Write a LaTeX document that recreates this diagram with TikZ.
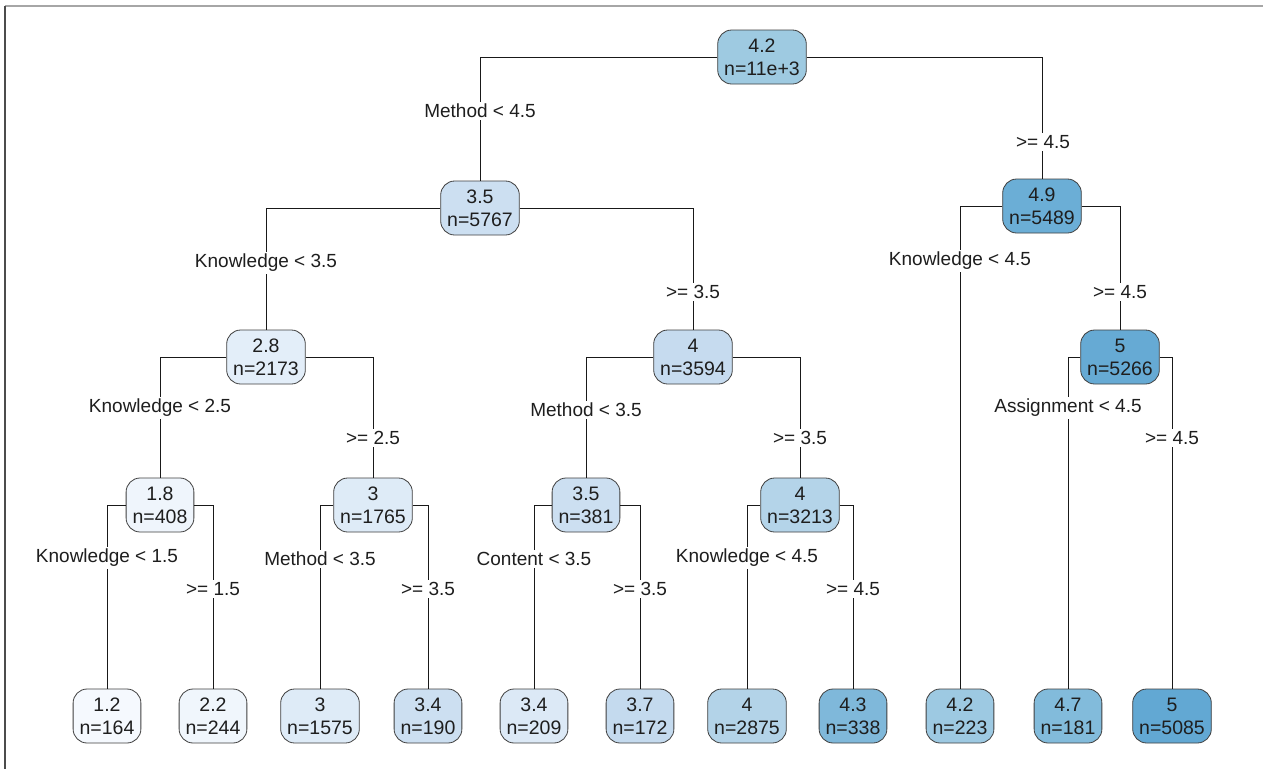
\documentclass[tikz,border=0pt]{standalone}
\usepackage{fontspec}
\setmainfont{Liberation Sans}
\definecolor{croot}{HTML}{9ECAE1}
\definecolor{ca}{HTML}{CCDFF1}
\definecolor{cb}{HTML}{6BAED6}
\definecolor{caa}{HTML}{E3EEF9}
\definecolor{cab}{HTML}{C6DBEF}
\definecolor{cbb}{HTML}{66AAD4}
\definecolor{caaa}{HTML}{EFF5FC}
\definecolor{caab}{HTML}{DEEBF7}
\definecolor{caba}{HTML}{CCDFF1}
\definecolor{cabb}{HTML}{B4D4E9}
\definecolor{cl1}{HTML}{F5F9FE}
\definecolor{cl2}{HTML}{F0F6FC}
\definecolor{cl3}{HTML}{DEEBF7}
\definecolor{cl4}{HTML}{CCDFF1}
\definecolor{cl5}{HTML}{DCE9F6}
\definecolor{cl6}{HTML}{C4DAEE}
\definecolor{cl7}{HTML}{B3D3E8}
\definecolor{cl8}{HTML}{7FB8DA}
\definecolor{cl9}{HTML}{9DC9E2}
\definecolor{cl10}{HTML}{82BBDB}
\definecolor{cl11}{HTML}{62A8D3}
\definecolor{txt}{HTML}{1E1E1E}
\begin{document}
\begin{tikzpicture}[x=1pt,y=-1pt,
  tn/.style={draw=black!75, rounded corners=14pt, line width=0.8pt, align=center,
    inner xsep=6.5pt, inner ysep=3pt, minimum height=54pt, text=txt,
    font=\fontsize{19.5}{23}\selectfont},
  lbl/.style={fill=white, inner sep=2pt, text=txt, font=\fontsize{19}{22}\selectfont},
  br/.style={draw=black!90, line width=0.7pt}]
\useasboundingbox (0,0) rectangle (1263,769);
\fill[white] (0,0) rectangle (1263,769);
\draw[black!35, line width=1.2pt] (5,6) -- (1263,6);
\draw[black!70, line width=1.2pt] (5,6) -- (5,769);
% internal nodes
\node[tn, fill=croot] (root) at (762,57) {4.2\\n=11e+3};
\node[tn, fill=ca] (a) at (480,208) {3.5\\n=5767};
\node[tn, fill=cb] (b) at (1042,206) {4.9\\n=5489};
\node[tn, fill=caa] (aa) at (266,357) {2.8\\n=2173};
\node[tn, fill=cab] (ab) at (693,357) {4\\n=3594};
\node[tn, fill=cbb] (bb) at (1120,357) {5\\n=5266};
\node[tn, fill=caaa] (aaa) at (160,505) {1.8\\n=408};
\node[tn, fill=caab] (aab) at (373,505) {3\\n=1765};
\node[tn, fill=caba] (aba) at (586,505) {3.5\\n=381};
\node[tn, fill=cabb] (abb) at (800,505) {4\\n=3213};
% leaves
\node[tn, fill=cl1] (l1) at (107,716) {1.2\\n=164};
\node[tn, fill=cl2] (l2) at (213,716) {2.2\\n=244};
\node[tn, fill=cl3] (l3) at (320,716) {3\\n=1575};
\node[tn, fill=cl4] (l4) at (428,716) {3.4\\n=190};
\node[tn, fill=cl5] (l5) at (534,716) {3.4\\n=209};
\node[tn, fill=cl6] (l6) at (640,716) {3.7\\n=172};
\node[tn, fill=cl7] (l7) at (747,716) {4\\n=2875};
\node[tn, fill=cl8] (l8) at (853,716) {4.3\\n=338};
\node[tn, fill=cl9] (l9) at (960,716) {4.2\\n=223};
\node[tn, fill=cl10] (l10) at (1068,716) {4.7\\n=181};
\node[tn, fill=cl11] (l11) at (1172,716) {5\\n=5085};
% branches
\draw[br] (root.west) -| (a.north);
\draw[br] (root.east) -| (b.north);
\draw[br] (a.west) -| (aa.north);
\draw[br] (a.east) -| (ab.north);
\draw[br] (b.west) -| (l9.north);
\draw[br] (b.east) -| (bb.north);
\draw[br] (aa.west) -| (aaa.north);
\draw[br] (aa.east) -| (aab.north);
\draw[br] (ab.west) -| (aba.north);
\draw[br] (ab.east) -| (abb.north);
\draw[br] (bb.west) -| (l10.north);
\draw[br] (bb.east) -| (l11.north);
\draw[br] (aaa.west) -| (l1.north);
\draw[br] (aaa.east) -| (l2.north);
\draw[br] (aab.west) -| (l3.north);
\draw[br] (aab.east) -| (l4.north);
\draw[br] (aba.west) -| (l5.north);
\draw[br] (aba.east) -| (l6.north);
\draw[br] (abb.west) -| (l7.north);
\draw[br] (abb.east) -| (l8.north);
% labels
\node[lbl] (t1) at (480,111) {Method < 4.5};
\node[lbl] (t2) at (1043,142) {>= 4.5};
\node[lbl] (t3) at (266,263) {Knowledge < 3.5};
\node[lbl] (t4) at (693,292) {>= 3.5};
\node[lbl] (t5) at (960,261) {Knowledge < 4.5};
\node[lbl] (t6) at (1120,292) {>= 4.5};
\node[lbl] (t7) at (160,408) {Knowledge < 2.5};
\node[lbl] (t8) at (373,438) {>= 2.5};
\node[lbl] (t9) at (586,410) {Method < 3.5};
\node[lbl] (t10) at (800,438) {>= 3.5};
\node[lbl] (t11) at (1068,408) {Assignment < 4.5};
\node[lbl] (t12) at (1172,438) {>= 4.5};
\node[lbl] (t13) at (107,558) {Knowledge < 1.5};
\node[lbl] (t14) at (213,589) {>= 1.5};
\node[lbl] (t15) at (320,559) {Method < 3.5};
\node[lbl] (t16) at (428,589) {>= 3.5};
\node[lbl] (t17) at (534,559) {Content < 3.5};
\node[lbl] (t18) at (640,589) {>= 3.5};
\node[lbl] (t19) at (747,558) {Knowledge < 4.5};
\node[lbl] (t20) at (853,589) {>= 4.5};
\end{tikzpicture}
\end{document}
